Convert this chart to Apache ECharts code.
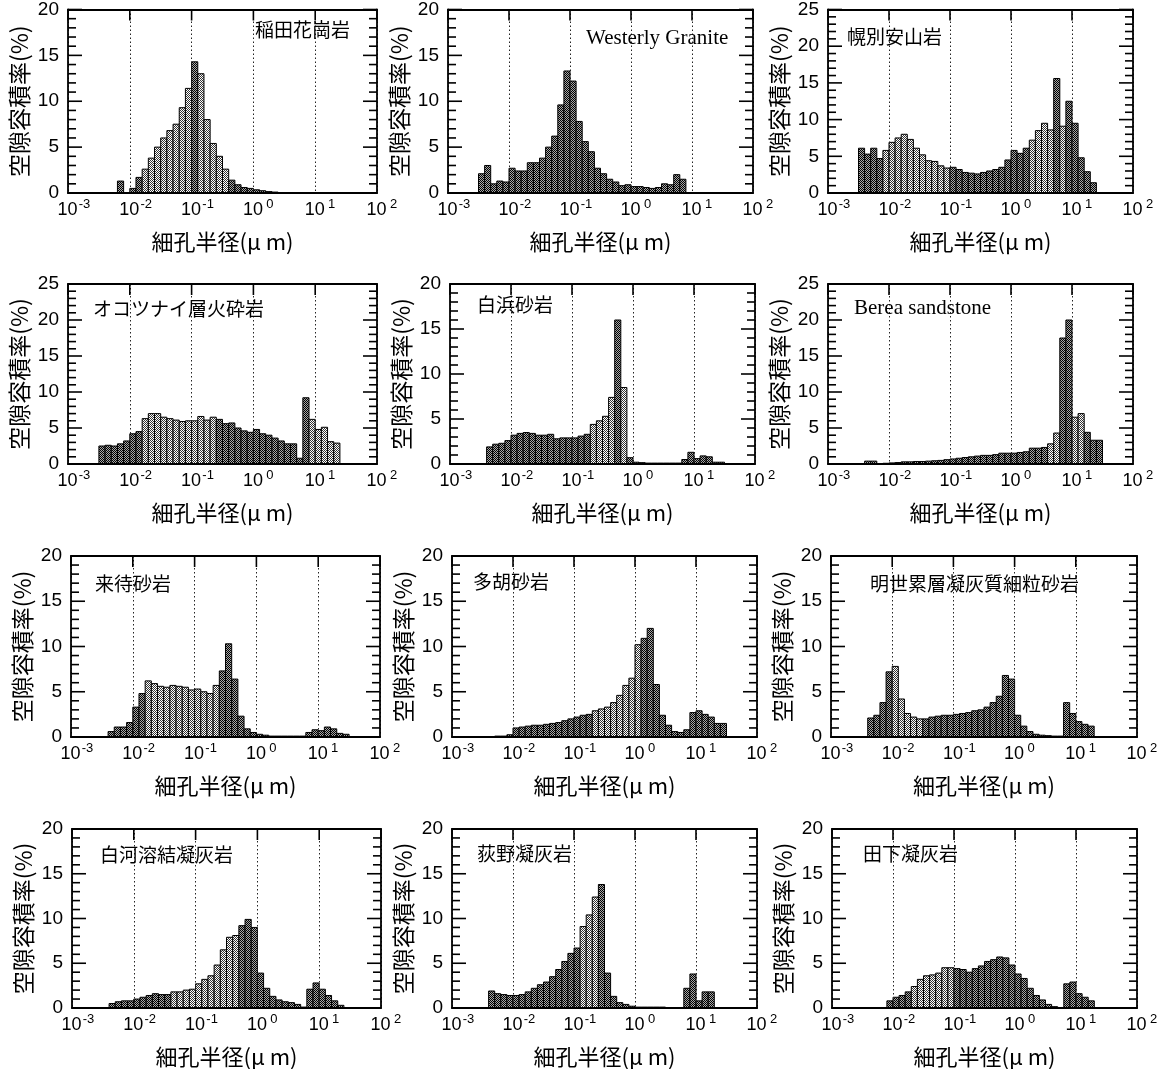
<!DOCTYPE html>
<html>
<head>
<meta charset="utf-8">
<script src="https://cdn.jsdelivr.net/npm/echarts@6/dist/echarts.min.js"></script>
<style>
html,body{margin:0;padding:0;background:#fff;}
#c{width:1165px;height:1069px;}
</style>
</head>
<body>
<div id="c"></div>
<script>
// ---------------- DATA ----------------
// pore radius bins: log10(r / μm), width 0.1 decade
const binWidth = 0.1;
const xTickExponents = [-3, -2, -1, 0, 1, 2];
const yMinorStep = 1;
const yMajorStep = 5;
const xAxisName = '細孔半径(μ m)';
const yAxisName = '空隙容積率(%)';

const rockNames = [
  '稲田花崗岩', 'Westerly Granite', '幌別安山岩',
  'オコツナイ層火砕岩', '白浜砂岩', 'Berea sandstone',
  '来待砂岩', '多胡砂岩', '明世累層凝灰質細粒砂岩',
  '白河溶結凝灰岩', '荻野凝灰岩', '田下凝灰岩'
];
const yMaxes = [20, 20, 25, 25, 20, 25, 20, 20, 20, 20, 20, 20];
// log10 of the left edge of the first bin of each rock
const firstBinLog = [-2.2, -2.5, -2.5, -2.5, -2.4, -2.4, -2.4, -2.3, -2.4, -2.4, -2.4, -2.1];

const inada = [1.3, 0, 0.5, 1.7, 2.6, 3.8, 5.0, 6.0, 6.8, 7.5, 9.3, 11.4, 14.3, 13.0, 8.0, 5.4, 4.0, 2.6, 1.4, 0.9, 0.6, 0.5, 0.35, 0.25, 0.15, 0.1];
const westerly = [2.1, 3.0, 1.0, 1.3, 1.2, 2.7, 2.4, 2.4, 3.3, 3.3, 3.8, 5.0, 6.2, 9.6, 13.3, 12.2, 7.8, 5.6, 4.5, 2.7, 2.1, 1.5, 1.2, 0.8, 0.9, 0.7, 0.7, 0.6, 0.5, 0.6, 1.0, 0.9, 2.0, 1.5];
const horobetsu = [6.1, 5.3, 6.1, 4.7, 5.8, 6.9, 7.5, 8.0, 7.3, 6.1, 5.2, 4.4, 4.3, 3.7, 3.4, 3.5, 3.2, 2.8, 2.7, 2.6, 2.8, 3.0, 3.2, 3.5, 4.5, 5.8, 5.4, 6.1, 7.2, 8.5, 9.5, 8.6, 15.6, 9.1, 12.5, 9.5, 4.8, 2.9, 1.4];
const okotsunai = [2.5, 2.6, 2.5, 2.8, 3.2, 4.2, 4.5, 6.3, 7.0, 7.0, 6.5, 6.3, 6.1, 5.9, 6.0, 6.0, 6.6, 6.1, 6.5, 6.2, 5.6, 5.7, 5.0, 4.6, 4.4, 4.8, 4.2, 4.0, 3.6, 3.2, 2.8, 2.8, 0.8, 9.2, 6.2, 4.8, 5.1, 3.1, 2.9];
const shirahama = [1.9, 2.2, 2.3, 2.6, 3.2, 3.4, 3.5, 3.4, 3.2, 3.2, 3.3, 2.8, 2.9, 2.9, 2.9, 3.1, 3.3, 4.4, 4.8, 5.3, 7.4, 16.0, 8.5, 0.7, 0.2, 0.15, 0.1, 0.1, 0.1, 0.1, 0.1, 0.1, 0.5, 1.3, 0.6, 0.9, 0.8, 0.2, 0.2];
const berea = [0.4, 0.4, 0.05, 0.1, 0.15, 0.2, 0.3, 0.3, 0.35, 0.35, 0.4, 0.45, 0.5, 0.6, 0.7, 0.8, 0.9, 1.0, 1.1, 1.2, 1.2, 1.3, 1.5, 1.5, 1.5, 1.6, 1.7, 2.2, 2.2, 2.3, 2.8, 4.3, 17.5, 20.0, 6.5, 7.0, 4.4, 3.3, 3.3];
const kimachi = [0.6, 1.1, 1.1, 1.6, 3.3, 4.8, 6.2, 5.9, 5.6, 5.5, 5.7, 5.6, 5.5, 5.2, 5.3, 5.0, 4.8, 5.7, 7.3, 10.3, 6.4, 2.3, 0.9, 0.5, 0.3, 0.2, 0.1, 0.1, 0.1, 0.1, 0.1, 0.1, 0.5, 0.8, 0.7, 1.1, 0.9, 0.4, 0.3];
const tago = [0.1, 0.1, 0.25, 1.0, 1.1, 1.2, 1.3, 1.3, 1.4, 1.5, 1.6, 1.8, 2.0, 2.2, 2.4, 2.5, 2.9, 3.1, 3.3, 3.8, 4.6, 5.7, 6.5, 10.2, 10.9, 12.0, 5.8, 2.4, 1.3, 0.6, 0.5, 0.8, 2.7, 2.9, 2.5, 2.2, 1.5, 1.5];
const akeyo = [2.1, 2.4, 3.8, 7.2, 7.8, 4.2, 2.6, 2.2, 2.0, 2.0, 2.2, 2.3, 2.4, 2.4, 2.5, 2.6, 2.7, 2.9, 3.0, 3.3, 3.8, 4.5, 6.8, 6.4, 2.4, 1.2, 0.6, 0.3, 0.2, 0.15, 0.1, 0.1, 3.8, 2.6, 1.7, 1.4, 1.2];
const shirakawa = [0.5, 0.7, 0.8, 0.8, 1.0, 1.2, 1.4, 1.6, 1.5, 1.5, 1.8, 1.8, 2.0, 2.1, 2.7, 3.2, 3.6, 4.8, 6.5, 7.9, 8.1, 9.2, 9.9, 9.0, 3.9, 2.2, 1.3, 0.9, 0.7, 0.6, 0.4, 0.1, 2.1, 2.8, 2.1, 1.4, 0.8, 0.3];
const ogino = [1.9, 1.6, 1.5, 1.4, 1.4, 1.5, 1.8, 2.2, 2.6, 2.9, 3.5, 4.3, 5.2, 6.1, 6.7, 9.1, 10.4, 12.4, 13.8, 3.9, 1.3, 0.6, 0.4, 0.2, 0.1, 0.1, 0.1, 0.1, 0.1, 0.05, 0.05, 0.05, 2.2, 3.8, 0.8, 1.8, 1.8];
const tajima = [0.8, 1.2, 1.4, 1.8, 2.4, 3.2, 3.6, 3.7, 3.9, 4.5, 4.5, 4.4, 4.3, 4.0, 4.4, 4.7, 5.2, 5.4, 5.7, 5.6, 4.8, 3.8, 3.3, 2.2, 1.4, 0.9, 0.4, 0.15, 0.05, 2.7, 2.9, 1.6, 1.2, 0.8];

const seriesValues = [inada, westerly, horobetsu, okotsunai, shirahama, berea,
                      kimachi, tago, akeyo, shirakawa, ogino, tajima];

// ---------------- LAYOUT / STYLE ----------------
const plotRects = [ // [left, top, right, bottom] in px
  [68, 9, 377, 193], [448, 9, 753, 193], [828, 9, 1133, 193],
  [68, 284, 377, 464], [450, 284, 755, 464], [828, 284, 1133, 464],
  [71, 556, 380, 737], [452, 556, 757, 737], [831, 556, 1137, 737],
  [72, 829, 381, 1008], [452, 829, 757, 1008], [832, 829, 1137, 1008]
];
const titlePos = [
  [255, 20], [586, 28], [847, 27],
  [93, 299], [477, 295], [854, 298],
  [95, 574], [473, 572], [870, 574],
  [100, 845], [477, 844], [863, 844]
];
const serifTitle = [false, true, false, false, false, true, false, false, false, false, false, false];
// shading: ranges (log10 units) drawn with the lighter screen tone
const lightTone = [
  [[-1.8, -1.0], [-0.9, -0.4]], [], [[-2.1, -1.0], [0.3, 0.7], [0.8, 0.9]],
  [[-1.8, -0.6], [0.9, 1.5]], [[-0.7, -0.3], [-0.2, -0.1]], [[0.6, 0.8], [1.0, 1.2]],
  [[-1.8, -0.6]], [[-0.7, 0.1]], [[-2.0, -1.5]],
  [[-1.4, -0.3]], [[-0.9, -0.6]], [[-1.7, -1.0]]
];
const MAJOR_TICK = 14, MINOR_TICK = 8, TOP_TICK = 11;

const SANS = 'Liberation Sans, Arial, sans-serif';
const CJK = 'Noto Sans CJK JP, sans-serif';

function makePattern(ink, paper) {
  const c = document.createElement('canvas');
  c.width = 2; c.height = 2;
  const g = c.getContext('2d');
  g.fillStyle = paper; g.fillRect(0, 0, 2, 2);
  g.fillStyle = ink;
  g.fillRect(0, 0, 1, 1); g.fillRect(1, 1, 1, 1);
  return { image: c, repeat: 'repeat' };
}
const darkTone = makePattern('#000', '#a8a8a8');
const lightPattern = makePattern('#333', '#ffffff');

const chart = echarts.init(document.getElementById('c'), null, { renderer: 'canvas' });

const grids = [], xAxes = [], yAxes = [], series = [], titles = [];
const frameLine = { show: true, onZero: false, lineStyle: { color: '#000', width: 1.8 } };
const xMin = xTickExponents[0], xMax = xTickExponents[xTickExponents.length - 1];

seriesValues.forEach((vals, i) => {
  const r = plotRects[i];
  grids.push({
    left: r[0], top: r[1], width: r[2] - r[0], height: r[3] - r[1], show: false
  });
  xAxes.push({
    gridIndex: i, type: 'value', position: 'bottom', z: 5,
    min: xMin, max: xMax, interval: 1,
    axisLine: frameLine, axisTick: { show: false },
    axisLabel: {
      margin: 7, color: '#000',
      formatter: v => '{pad| }{b|10}{s|' + v + '}',
      rich: {
        pad: { width: 12, fontSize: 12 },
        b: { fontSize: 18, fontFamily: SANS, color: '#000', lineHeight: 21 },
        s: { fontSize: 13, fontFamily: SANS, color: '#000', lineHeight: 13, padding: [0, 0, 12, 1], width: 12, align: 'left' }
      }
    },
    splitLine: { show: true, lineStyle: { color: '#222', width: 1, type: [1.5, 2.5] } },
    name: xAxisName, nameLocation: 'middle', nameGap: 38,
    nameTextStyle: { fontSize: 22, fontFamily: CJK, color: '#000' }
  });
  xAxes.push({
    gridIndex: i, type: 'value', position: 'top', z: 5,
    min: xMin, max: xMax, interval: 1,
    axisLine: frameLine, axisTick: { show: false },
    axisLabel: { show: false }, splitLine: { show: false }
  });
  const yCommon = {
    gridIndex: i, type: 'value', min: 0, max: yMaxes[i], interval: yMajorStep, z: 5,
    axisLine: frameLine, axisTick: { show: false }, splitLine: { show: false }
  };
  yAxes.push(Object.assign({}, yCommon, {
    position: 'left',
    axisLabel: { fontSize: 19, fontFamily: SANS, color: '#000', margin: 9 },
    name: yAxisName, nameLocation: 'middle', nameGap: 37,
    nameTextStyle: { fontSize: 23, fontFamily: CJK, color: '#000' }
  }));
  yAxes.push(Object.assign({}, yCommon, { position: 'right', axisLabel: { show: false } }));

  // histogram bars
  const start = firstBinLog[i];
  const data = vals.map((v, k) => {
    const x0 = Math.round((start + k * binWidth) * 1000) / 1000;
    const x1 = Math.round((start + (k + 1) * binWidth) * 1000) / 1000;
    return [x0, x1, v];
  });
  const spans = lightTone[i];
  series.push({
    type: 'custom', xAxisIndex: 2 * i, yAxisIndex: 2 * i,
    data: data, encode: { x: [0, 1], y: 2 }, clip: true, silent: true, z: 2,
    renderItem: function (params, api) {
      const a = api.value(0), b = api.value(1), h = api.value(2);
      if (!(h > 0)) return null;
      const p0 = api.coord([a, h]);
      const p1 = api.coord([b, 0]);
      const mid = (a + b) / 2;
      const light = spans.some(s => mid > s[0] && mid < s[1]);
      return {
        type: 'rect',
        shape: { x: p0[0], y: p0[1], width: p1[0] - p0[0], height: p1[1] - p0[1] },
        style: { fill: light ? lightPattern : darkTone, stroke: '#000', lineWidth: 1 }
      };
    }
  });

  titles.push({
    text: rockNames[i], left: titlePos[i][0], top: titlePos[i][1], padding: 0,
    textStyle: serifTitle[i]
      ? { fontSize: 21, fontFamily: 'Liberation Serif, Times New Roman, serif', fontWeight: 'normal', color: '#000' }
      : { fontSize: 19, fontFamily: CJK, fontWeight: 'normal', color: '#000' }
  });
});

chart.setOption({
  animation: false,
  backgroundColor: '#fff',
  title: titles,
  grid: grids,
  xAxis: xAxes,
  yAxis: yAxes,
  series: series
});

// inward frame ticks, positioned through each grid's own scales
const tickEls = [];
const tickStyle = { stroke: '#000', lineWidth: 1.6 };
seriesValues.forEach((vals, i) => {
  const finder = { xAxisIndex: 2 * i, yAxisIndex: 2 * i };
  for (let v = 0; v <= yMaxes[i]; v += yMinorStep) {
    const len = v % yMajorStep === 0 ? MAJOR_TICK : MINOR_TICK;
    const pl = chart.convertToPixel(finder, [xMin, v]);
    const pr = chart.convertToPixel(finder, [xMax, v]);
    if (!pl || !pr) continue;
    tickEls.push({ type: 'line', silent: true, z: 50,
      shape: { x1: pl[0], y1: pl[1], x2: pl[0] + len, y2: pl[1] }, style: tickStyle });
    tickEls.push({ type: 'line', silent: true, z: 50,
      shape: { x1: pr[0], y1: pr[1], x2: pr[0] - len, y2: pr[1] }, style: tickStyle });
  }
  xTickExponents.forEach(e => {
    const p = chart.convertToPixel(finder, [e, yMaxes[i]]);
    if (!p) return;
    tickEls.push({ type: 'line', silent: true, z: 50,
      shape: { x1: p[0], y1: p[1], x2: p[0], y2: p[1] + TOP_TICK }, style: tickStyle });
  });
});
chart.setOption({ graphic: { elements: tickEls } });
</script>
</body>
</html>
